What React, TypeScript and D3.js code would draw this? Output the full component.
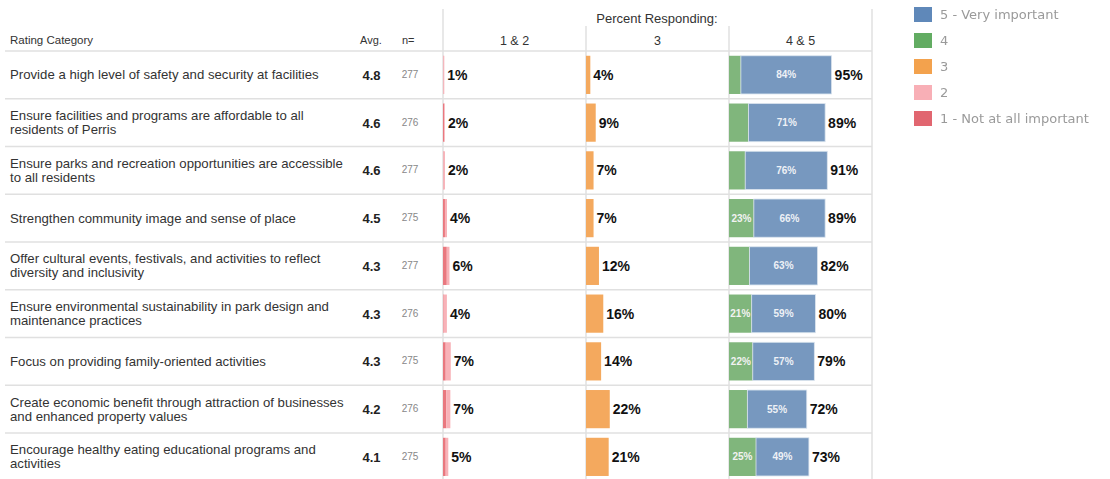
import * as d3 from 'd3';

// rows, top to bottom
const categories = [
  ['Provide a high level of safety and security at facilities'],
  ['Ensure facilities and programs are affordable to all', 'residents of Perris'],
  ['Ensure parks and recreation opportunities are accessible', 'to all residents'],
  ['Strengthen community image and sense of place'],
  ['Offer cultural events, festivals, and activities to reflect', 'diversity and inclusivity'],
  ['Ensure environmental sustainability in park design and', 'maintenance practices'],
  ['Focus on providing family-oriented activities'],
  ['Create economic benefit through attraction of businesses', 'and enhanced property values'],
  ['Encourage healthy eating educational programs and', 'activities'],
];
const avgValues = [4.8, 4.6, 4.6, 4.5, 4.3, 4.3, 4.3, 4.2, 4.1];
const nValues = [277, 276, 277, 275, 277, 276, 275, 276, 275];

// percent responding by rating
const pct1 = [0.3, 1.2, 0.4, 1.8, 3.5, 0.6, 2.5, 3.1, 2.5];
const pct2 = [0.9, 0.6, 1.4, 1.9, 2.5, 3.0, 4.7, 3.7, 2.4];
const pct3 = [4, 9, 7, 7, 12, 16, 14, 22, 21];
const pct4 = [11, 18, 15, 23, 19, 21, 22, 17, 25];
const pct5 = [84, 71, 76, 66, 63, 59, 57, 55, 49];

// labels shown next to bars
const label12 = [1, 2, 2, 4, 6, 4, 7, 7, 5];
const label3 = [4, 9, 7, 7, 12, 16, 14, 22, 21];
const label45 = [95, 89, 91, 89, 82, 80, 79, 72, 73];

const columnHeaders = ['1 & 2', '3', '4 & 5'];
const legendLabels = ['5 - Very important', '4', '3', '2', '1 - Not at all important'];
const legendColors = ['#5f88b9', '#62ac62', '#f3a24d', '#f8afb6', '#e1666f'];

const colors = {
  r1: '#e9787f',
  r2: '#f8b2b8',
  r3: '#f4a95e',
  r4: '#80b67c',
  r5: '#7798bf',
};

const W = 1110;
const H = 479;
const FONT = '"Liberation Sans", Arial, sans-serif';
const gridColor = '#e0e0e0';

export default function App() {
  const tableTop = 51;
  const tableBottom = 479;
  const rowScale = d3
    .scaleBand<number>()
    .domain(d3.range(categories.length))
    .range([tableTop, tableTop + 47.75 * categories.length])
    .paddingInner(0.2)
    .paddingOuter(0.1);
  const step = rowScale.step();
  const rowTop = (i: number) => tableTop + i * step;
  const colStarts = [443, 586, 729];
  const x = d3.scaleLinear().domain([0, 100]).range([0, 108]);

  return (
    <div style={{ position: 'absolute', left: 0, top: 0 }}>
      <svg width={W} height={H} style={{ display: 'block', fontFamily: FONT }}>
        <defs>
          <filter id="soft">
            <feGaussianBlur stdDeviation="0.55" />
          </filter>
        </defs>
        <rect width={W} height={H} fill="#fff" />

        {/* grid */}
        <line x1={443} x2={443} y1={9} y2={tableBottom} stroke={gridColor} strokeWidth={1.5} />
        <line x1={872} x2={872} y1={9} y2={tableBottom} stroke={gridColor} strokeWidth={1.5} />
        {colStarts.slice(1).map((cx) => (
          <line key={cx} x1={cx} x2={cx} y1={26} y2={tableBottom} stroke={gridColor} strokeWidth={1.5} />
        ))}
        {d3.range(categories.length).map((i) => (
          <line
            key={i}
            x1={5}
            x2={872}
            y1={rowTop(i)}
            y2={rowTop(i)}
            stroke={gridColor}
            strokeWidth={1.5}
          />
        ))}

        {/* headers */}
        <text x={10} y={44} fontSize={11.5} fill="#333">Rating Category</text>
        <text x={360} y={44} fontSize={11} fill="#333">Avg.</text>
        <text x={402} y={44} fontSize={11} fill="#333">n=</text>
        <text x={657} y={23} fontSize={13} fill="#333" textAnchor="middle">Percent Responding:</text>
        {columnHeaders.map((h, j) => (
          <text key={h} x={colStarts[j] + 71.5} y={45} fontSize={12.5} fill="#333" textAnchor="middle">
            {h}
          </text>
        ))}

        {/* rows */}
        {categories.map((lines, i) => {
          const cy = rowTop(i) + step / 2;
          const by = rowScale(i) as number;
          const bh = rowScale.bandwidth();
          const w1 = x(pct1[i]);
          const w2 = x(pct2[i]);
          const w3 = x(pct3[i]);
          const w4 = x(pct4[i]);
          const w5 = x(pct5[i]);
          return (
            <g key={i}>
              {lines.map((ln, k) => (
                <text
                  key={k}
                  x={10}
                  y={cy + 4.5 + (k - (lines.length - 1) / 2) * 14}
                  fontSize={13.2}
                  fill="#333"
                >
                  {ln}
                </text>
              ))}
              <text x={371.5} y={cy + 5} fontSize={13} fontWeight="bold" fill="#222" textAnchor="middle">
                {avgValues[i].toFixed(1)}
              </text>
              <text x={410} y={cy + 3} fontSize={10} fill="#888" textAnchor="middle">
                {nValues[i]}
              </text>

              {/* 1 & 2 */}
              <rect x={colStarts[0]} y={by} width={w1} height={bh} fill={colors.r1} />
              <rect x={colStarts[0] + w1} y={by} width={w2} height={bh} fill={colors.r2} />
              <text x={colStarts[0] + w1 + w2 + 3} y={cy + 5} fontSize={14} fontWeight="bold" fill="#111">
                {label12[i]}%
              </text>

              {/* 3 */}
              <rect x={colStarts[1]} y={by} width={w3} height={bh} fill={colors.r3} />
              <text x={colStarts[1] + w3 + 3} y={cy + 5} fontSize={14} fontWeight="bold" fill="#111">
                {label3[i]}%
              </text>

              {/* 4 & 5 */}
              <rect x={colStarts[2]} y={by} width={w4} height={bh} fill={colors.r4} />
              <rect
                x={colStarts[2] + w4}
                y={by}
                width={w5}
                height={bh}
                fill={colors.r5}
                stroke="#dbe4ee"
                strokeWidth={0.8}
              />
              {pct4[i] >= 20 && (
                <text
                  x={colStarts[2] + w4 / 2}
                  y={cy + 3.5}
                  fontSize={10}
                  fontWeight="bold"
                  fill="#f2f2f2"
                  textAnchor="middle"
                >
                  {pct4[i]}%
                </text>
              )}
              <text
                x={colStarts[2] + w4 + w5 / 2}
                y={cy + 3.5}
                fontSize={10}
                fontWeight="bold"
                fill="#eef1f6"
                textAnchor="middle"
              >
                {pct5[i]}%
              </text>
              <text x={colStarts[2] + w4 + w5 + 3} y={cy + 5} fontSize={14} fontWeight="bold" fill="#111">
                {label45[i]}%
              </text>
            </g>
          );
        })}

        {/* legend */}
        <g filter="url(#soft)">
          {legendLabels.map((lab, i) => {
            const ly = 14 + i * 26;
            return (
              <g key={lab}>
                <rect x={914} y={ly - 7} width={18} height={15} fill={legendColors[i]} />
                <text x={940} y={ly + 4.5} fontSize={13} fill="#9a9a9a" fontFamily='"DejaVu Sans", sans-serif'>
                  {lab}
                </text>
              </g>
            );
          })}
        </g>
      </svg>
    </div>
  );
}
